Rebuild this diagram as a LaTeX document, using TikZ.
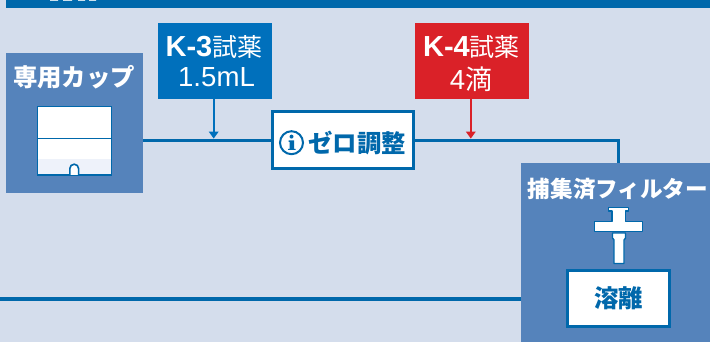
\documentclass[tikz,border=0pt]{standalone}
\usepackage{fontspec}
\usetikzlibrary{arrows.meta}
\setmainfont{Noto Sans CJK JP}
\newfontfamily\latinf{Liberation Sans}
\definecolor{bg}{HTML}{D4DDEC}
\definecolor{panel}{HTML}{5583BB}
\definecolor{navy}{HTML}{0068AB}
\definecolor{kblue}{HTML}{0070BC}
\definecolor{kred}{HTML}{DA2128}
\definecolor{cupfill}{HTML}{EEF2FA}
\newcommand{\hbig}{\fontsize{24.4}{26}\selectfont}
\newcommand{\kname}[1]{{\latinf\bfseries\fontsize{29}{30}\selectfont K-#1}{\fontsize{25}{26}\selectfont 試薬}}
\tikzset{
  panelbox/.style={fill=panel,draw=none,inner sep=0pt,outer sep=0pt,anchor=north west},
  reagent/.style={draw=none,inner sep=0pt,outer sep=0pt,anchor=north west,minimum width=114pt,minimum height=76pt},
  rtext/.style={text=white,inner sep=0pt},
  whitebox/.style={draw=navy,line width=3pt,fill=white,inner sep=0pt,outer sep=0pt},
  pipe/.style={draw=navy,line width=3.6pt},
  feed/.style={line width=1.7pt,-{Triangle[length=7pt,width=9.5pt]}},
  hd/.style={text=white,inner sep=0pt,font=\bfseries\hbig},
  navytext/.style={text=navy,inner sep=0pt,font=\bfseries\hbig},
  icon/.style={draw=navy,line width=1.4pt,fill=white,line join=round},
}
\begin{document}
\begin{tikzpicture}[x=1pt,y=-1pt]
\useasboundingbox (0,0) rectangle (710,342);
\fill[bg] (0,0) rectangle (710,342);
\fill[navy] (6,0) rectangle (710,8);
\fill[white!80!navy] (50,0) rectangle (58,0.8) (63,0) rectangle (72,0.8) (78,0) rectangle (85,0.8) (89,0) rectangle (96,0.8);
% connectors
\coordinate (lineL) at (0,299);
\coordinate (tapA) at (213.7,138.6);
\coordinate (tapB) at (470.8,138.6);
\coordinate (pipeY) at (0,140.5);
\node[panelbox,minimum width=137.5pt,minimum height=140pt] (cup) at (5.5,53) {};
\node[panelbox,minimum width=190pt,minimum height=180pt] (filter) at (520.5,163) {};
\node[whitebox,minimum width=141pt,minimum height=57pt] (zero) at (343,140) {};
\coordinate (bend) at (618.3,140.5);
\draw[pipe] (cup.east |- pipeY) -- (zero.west |- pipeY);
\draw[pipe] (zero.east |- pipeY) -- (bend) -- (bend |- filter.north);
\draw[pipe] (lineL) -- (filter.west |- lineL);
% reagents
\node[reagent,fill=kblue] (k3) at (157.5,23) {};
\node[reagent,fill=kred] (k4) at (414.5,23) {};
\draw[feed,kblue] (k3.south -| tapA) -- (tapA);
\draw[feed,kred] (k4.south -| tapB) -- (tapB);
\node[rtext] at (214,47) {\kname{3}};
\node[rtext] at (216.5,77.5) {\latinf\fontsize{27.6}{30}\selectfont 1.5mL};
\node[rtext] at (471.5,47) {\kname{4}};
\node[rtext] at (471,79) {{\latinf\fontsize{27.6}{30}\selectfont 4}{\fontsize{27}{30}\selectfont 滴}};
% cup
\node[hd] at (74,77.5) {専用カップ};
\fill[white] (37.5,106.5) rectangle (111.5,175);
\fill[cupfill] (37.5,159) rectangle (111.5,175);
\draw[navy,line width=1.5pt] (37.5,106.5) rectangle (111.5,175);
\draw[navy,line width=1pt] (37.5,138.2) -- (111.5,138.2);
\draw[navy,line width=1.6pt,fill=white] (69.8,175) -- (69.8,168.6) arc[start angle=180,end angle=360,radius=4.4] -- (78.6,175);
% zero label
\node[navytext] at (357,143) {ゼロ調整};
\draw[navy,line width=2pt] (291.5,142.7) circle (11.5);
\fill[navy] (291.5,136.6) circle (2);
\fill[navy] (288.5,140.5) rectangle (294,141.8) (289.7,140.5) rectangle (294,150) (288,148.8) rectangle (295.5,150);
% filter
\node[hd,font=\bfseries\fontsize{22.6}{26}\selectfont] at (618,189) {捕集済フィルター};
\draw[icon] (608.5,207.5) -- (628.5,207.5) -- (628.5,211) -- (625.5,211) -- (625.5,221.5) -- (642.5,221.5) -- (642.5,231.5) -- (594.5,231.5) -- (594.5,221.5) -- (612,221.5) -- (612,211) -- (608.5,211) -- cycle;
\draw[icon] (612.5,233) -- (625.5,233) -- (625.5,238) -- (624,240) -- (624,263.5) -- (614,263.5) -- (614,240) -- (612.5,238) -- cycle;
\node[whitebox,minimum width=102pt,minimum height=56pt,navytext,text=navy] (elute) at (618.5,298.5) {\raisebox{-2.5pt}{溶離}};
\end{tikzpicture}
\end{document}
